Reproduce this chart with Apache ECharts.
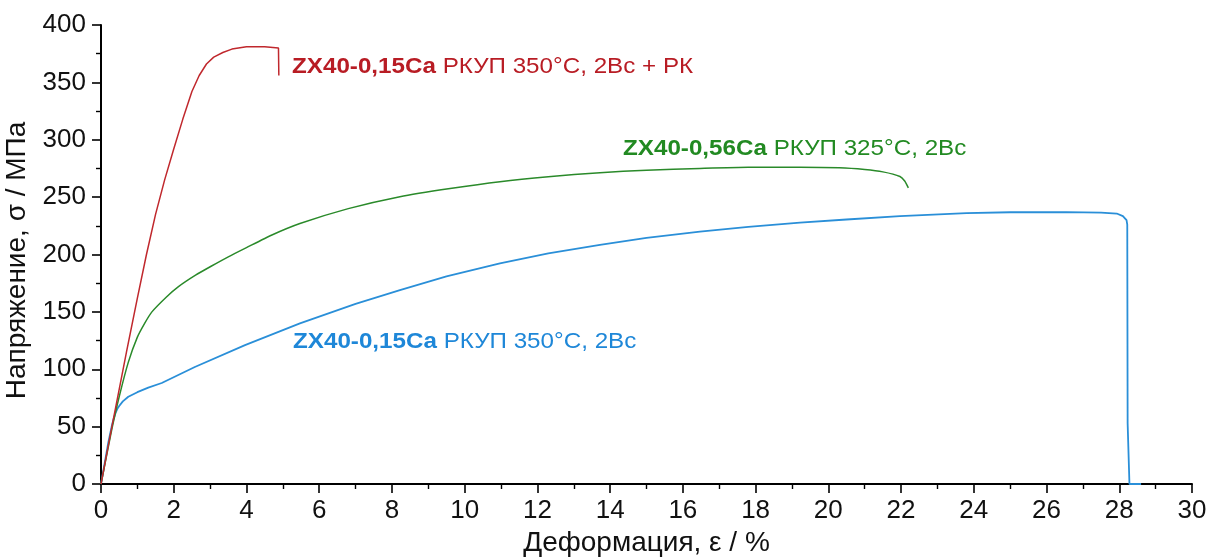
<!DOCTYPE html>
<html>
<head>
<meta charset="utf-8">
<script src="https://cdn.jsdelivr.net/npm/echarts@6/dist/echarts.min.js"></script>
<style>html,body{margin:0;padding:0;background:#fff;}#c{width:1210px;height:558px;}</style>
</head>
<body>
<div id="c"></div>
<script>
var redX = [0, 0.3, 0.7, 1.0, 1.25, 1.5, 1.75, 2.0, 2.25, 2.5, 2.7, 2.9, 3.1, 3.35, 3.6, 4.0, 4.5, 4.88, 4.89];
var redY = [0, 50, 115, 162, 200, 235, 265, 292, 318, 342, 356, 366, 372, 376, 379, 381, 381, 380, 356];

var greenX = [0, 0.15, 0.3, 0.5, 0.75, 1.0, 1.2, 1.4, 1.8, 2.13, 2.6, 3.04, 3.5, 4, 4.7, 5.47, 6.8, 8.22, 9.6, 10.97, 12.3, 13.72, 15, 16.47, 17.8, 19.22, 20.3, 21, 21.5, 21.97, 22.1, 22.2];
var greenY = [0, 24, 48, 76, 106, 128, 140, 150, 163, 172, 182, 190, 198, 206, 217, 227, 240, 250.4, 257.5, 263.5, 267.8, 271.3, 273.5, 275, 276, 276, 275.5, 274, 272, 268, 264, 258];

var blueX = [0, 0.1, 0.2, 0.3, 0.35, 0.4, 0.45, 0.5, 0.6, 0.75, 1.0, 1.3, 1.67, 2.58, 3.96, 5.47, 7, 8.22, 9.5, 10.97, 12.3, 13.72, 15, 16.47, 17.8, 19.22, 20.5, 21.97, 23.8, 25, 26.55, 27.5, 27.93, 28.1, 28.2, 28.22, 28.23, 28.28, 28.6];
var blueY = [0, 18, 36, 51, 57, 62, 65.5, 68, 72, 76, 80, 84, 88, 102, 121, 140, 157, 169, 181, 192.3, 201, 208.3, 214.5, 220, 224, 227.7, 230.5, 233.5, 236, 236.8, 237, 236.5, 235.7, 233.5, 230, 226, 53, 0, 0];

var xTicks = {min: 0, max: 30, interval: 2};
var yTicks = {min: 0, max: 400, interval: 50};

var labels = [
  {bold: 'ZX40-0,15Ca', rest: ' РКУП 350°C, 2Bc + РК', color: '#b81c24'},
  {bold: 'ZX40-0,56Ca', rest: ' РКУП 325°C, 2Bc', color: '#228a22'},
  {bold: 'ZX40-0,15Ca', rest: ' РКУП 350°C, 2Bc', color: '#1e87d8'}
];
var labelPos = [[292, 67], [623, 149], [293, 342]];

function pairs(xs, ys) { return xs.map(function (x, i) { return [x, ys[i]]; }); }

var FONT = '"Liberation Sans", Arial, sans-serif';
var chart = echarts.init(document.getElementById('c'));

var axisCommon = {
  axisLine: {show: true, lineStyle: {color: '#000', width: 2}},
  axisTick: {show: true, inside: false, length: 9, lineStyle: {color: '#000', width: 1.6}},
  minorTick: {show: true, splitNumber: 2, length: 5, lineStyle: {color: '#000', width: 1.4}},
  splitLine: {show: false},
  minorSplitLine: {show: false},
  axisLabel: {color: '#111', fontSize: 26, fontFamily: FONT},
  nameTextStyle: {color: '#111', fontSize: 28, fontFamily: FONT}
};

var option = {
  animation: false,
  backgroundColor: '#fff',
  grid: {left: 101, top: 25, width: 1091, height: 459, containLabel: false, outerBoundsMode: 'none'},
  xAxis: Object.assign({}, axisCommon, {
    type: 'value', min: xTicks.min, max: xTicks.max, interval: xTicks.interval,
    name: 'Деформация, ε / %', nameLocation: 'middle', nameGap: 43,
    axisLabel: Object.assign({}, axisCommon.axisLabel, {margin: 14})
  }),
  yAxis: Object.assign({}, axisCommon, {
    type: 'value', min: yTicks.min, max: yTicks.max, interval: yTicks.interval,
    name: 'Напряжение, σ / МПа', nameLocation: 'middle', nameGap: 64, nameRotate: 90,
    nameTextStyle: Object.assign({}, axisCommon.nameTextStyle, {padding: [0, 12, 0, 0]}),
    axisLabel: Object.assign({}, axisCommon.axisLabel, {margin: 15})
  }),
  series: [
    {type: 'line', data: pairs(redX, redY), showSymbol: false, lineStyle: {color: '#c0282d', width: 1.5}, z: 3},
    {type: 'line', data: pairs(greenX, greenY), showSymbol: false, smooth: 0.2, lineStyle: {color: '#2a8a2a', width: 1.5}, z: 2},
    {type: 'line', data: pairs(blueX, blueY), showSymbol: false, lineStyle: {color: '#2a8fd8', width: 1.8}, z: 1}
  ],
  graphic: labels.map(function (l, i) {
    return {
      type: 'text', x: labelPos[i][0], y: labelPos[i][1], scaleX: 1.1,
      style: {
        text: '{b|' + l.bold + '}{r|' + l.rest + '}',
        textVerticalAlign: 'middle', verticalAlign: 'middle',
        rich: {
          b: {fontWeight: 'bold', fontSize: 22, fontFamily: FONT, fill: l.color, color: l.color},
          r: {fontSize: 22, fontFamily: FONT, fill: l.color, color: l.color}
        }
      }
    };
  })
};
chart.setOption(option);
</script>
</body>
</html>
